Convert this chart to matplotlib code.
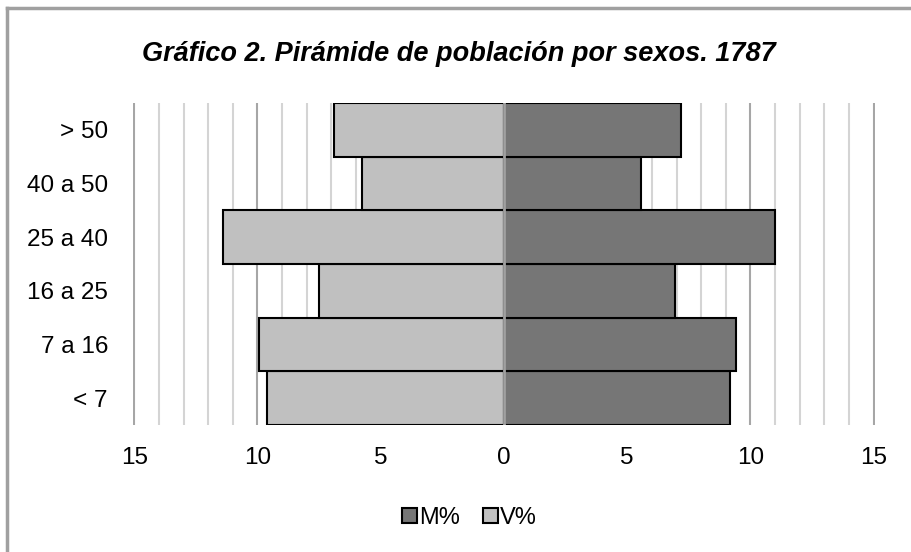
import matplotlib.pyplot as plt
import numpy as np
from matplotlib.patches import Patch

plt.rcParams['font.family'] = ['Liberation Sans', 'DejaVu Sans']

# data (percent), bottom to top
groups = ['< 7', '7 a 16', '16 a 25', '25 a 40', '40 a 50', '> 50']
v_pct = [9.6, 9.95, 7.5, 11.4, 5.75, 6.9]
m_pct = [9.15, 9.4, 6.95, 11.0, 5.55, 7.2]
xticks = [-15, -10, -5, 0, 5, 10, 15]

fig = plt.figure(figsize=(9.12, 5.52), dpi=100)
ax = fig.add_axes([0.1458, 0.2301, 0.8136, 0.5833])

y = np.arange(len(groups))
ax.barh(y, [-v for v in v_pct], height=1.0, color='#c0c0c0', edgecolor='black', lw=1.5, zorder=3)
ax.barh(y, m_pct, height=1.0, color='#767676', edgecolor='black', lw=1.5, zorder=3)

# vertical grid: light every unit, darker every 5
for x in range(-15, 16):
    if x == 0:
        continue
    c = '#a6a6a6' if x % 5 == 0 else '#d4d4d4'
    ax.axvline(x, color=c, lw=1.5, zorder=1)
ax.axvline(0, color='#a0a0a0', lw=2, zorder=4)

ax.set_xlim(-15.05, 15.05)
ax.set_ylim(-0.5, len(groups) - 0.5)
ax.set_yticks(y)
ax.set_yticklabels(groups, fontsize=17.5)
ax.set_xticks(xticks)
ax.set_xticklabels([str(abs(t)) for t in xticks], fontsize=17.5)
ax.tick_params(length=0, pad=16)
ax.tick_params(axis='y', pad=18)
for s in ax.spines.values():
    s.set_visible(False)

fig.text(0.503, 0.903, 'Gráfico 2. Pirámide de población por sexos. 1787',
         ha='center', va='center', fontsize=19.5, weight='bold', style='italic')

handles = [Patch(facecolor='#767676', edgecolor='black', lw=1.5, label='M%'),
           Patch(facecolor='#c0c0c0', edgecolor='black', lw=1.5, label='V%')]
fig.legend(handles=handles, loc='center', bbox_to_anchor=(0.515, 0.062), ncol=2,
           frameon=False, fontsize=17, handlelength=0.6, handleheight=0.6,
           handletextpad=0.1, columnspacing=1.0)

# outer frame (only left and top edges visible in the picture)
fig.add_artist(plt.Line2D([0.0075, 0.0075], [0.0, 0.985], color='#a0a0a0', lw=2.5, transform=fig.transFigure))
fig.add_artist(plt.Line2D([0.0075, 1.0], [0.985, 0.985], color='#a0a0a0', lw=2.5, transform=fig.transFigure))

fig.savefig('out.png', dpi=100)
